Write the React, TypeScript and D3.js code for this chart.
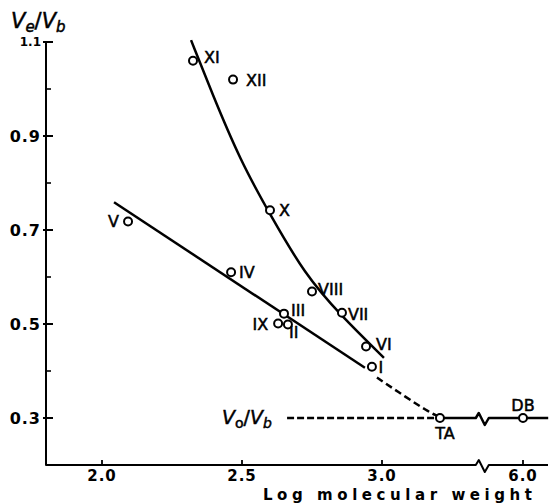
import React from "react";
import * as d3 from "d3";

// ---- data ----
const pointNames = ["XI", "XII", "X", "IV", "VIII", "III", "IX", "II", "VII", "VI", "I", "V", "TA", "DB"];
const pointLogMW = [2.325, 2.468, 2.6, 2.461, 2.75, 2.65, 2.629, 2.664, 2.857, 2.943, 2.964, 2.093, 3.207, 6.0];
const pointRatio = [1.06, 1.02, 0.742, 0.61, 0.569, 0.522, 0.501, 0.499, 0.524, 0.452, 0.409, 0.718, 0.3, 0.3];

const upperCurveX = [2.318, 2.393, 2.493, 2.6, 2.725, 2.85, 3.007];
const upperCurveY = [1.104, 0.991, 0.849, 0.733, 0.605, 0.52, 0.428];
const lowerLineX = [2.043, 2.939];
const lowerLineY = [0.759, 0.407];
const tailX = [2.982, 3.089, 3.161, 3.196];
const tailY = [0.386, 0.343, 0.315, 0.305];
const voidRatio = 0.3;
const voidLineX = [2.661, 3.193];
const baseLeftX = [3.207, 3.335];
const baseRightX = [5.88, 6.09];
const axisBreakLeft = 3.36;

const yMajorTicks = [0.3, 0.5, 0.7, 0.9, 1.1];
const yMajorLabels = ["0.3", "0.5", "0.7", "0.9", "1.1"];
const yMinorTicks = [0.4, 0.6, 0.8, 1.0];
const xTicks = [2.0, 2.5, 3.0, 6.0];
const xTickLabels = ["2.0", "2.5", "3.0", "6.0"];
const yDomain = [0.2, 1.1];

// ---- layout (label offsets: dx, dy baseline, anchor) ----
const labelOffsets: Record<string, [number, number, string]> = {
  XI: [11, 2, "start"],
  XII: [13, 6, "start"],
  X: [9, 6, "start"],
  IV: [8, 6, "start"],
  VIII: [6, 3, "start"],
  III: [7, 2, "start"],
  IX: [-10, 6, "end"],
  II: [1, 14, "start"],
  VII: [6, 7, "start"],
  VI: [10, 3, "start"],
  I: [9, 6, "middle"],
  V: [-9, 5, "end"],
  TA: [5, 21, "middle"],
  DB: [0, -7, "middle"],
};

const FONT = "'DejaVu Sans', Verdana, sans-serif";

export default function App() {
  const sL = d3.scaleLinear().domain([1.8, 3.0]).range([46, 382]);
  const sR = d3.scaleLinear().domain([6.0, 6.1]).range([523, 551]);
  const x = (v: number) => (v < 4.5 ? sL(v) : sR(v));
  const y = d3.scaleLinear().domain(yDomain).range([465, 42]);

  const line = d3
    .line<[number, number]>()
    .x((d) => x(d[0]))
    .y((d) => y(d[1]));
  const smooth = d3
    .line<[number, number]>()
    .x((d) => x(d[0]))
    .y((d) => y(d[1]))
    .curve(d3.curveBasis);

  const upper = smooth(upperCurveX.map((v, i) => [v, upperCurveY[i]]));
  const lower = line(lowerLineX.map((v, i) => [v, lowerLineY[i]]));
  const tail = smooth(tailX.map((v, i) => [v, tailY[i]]));
  const voidPath = line(voidLineX.map((v) => [v, voidRatio]));

  const zig = (bx: number, by: number) =>
    `L${bx - 6},${by} L${bx - 3},${by - 5} L${bx + 3},${by + 7} L${bx + 7},${by}`;

  const yv = y(voidRatio);
  const bxData = x(axisBreakLeft) - 1;
  const basePath =
    `M${x(baseLeftX[0])},${yv} L${x(baseLeftX[1])},${yv} ` +
    zig(bxData, yv) +
    ` L${x(baseRightX[0])},${yv} L${x(baseRightX[1])},${yv}`;

  const axY = y(yDomain[0]);
  const axX = x(1.8);
  const bxAxis = x(axisBreakLeft) - 1;
  const axisPath =
    `M${axX},${y(yDomain[1])} L${axX},${axY} ` + zig(bxAxis, axY) + ` L548,${axY}`;

  const heavy = { stroke: "#000", strokeWidth: 0.5 };

  return (
    <svg width={550} height={504} style={{ display: "block", position: "absolute", left: 0, top: 0, background: "#fff" }}>
      <rect width={550} height={504} fill="#fff" />
      {/* axes */}
      <path d={axisPath} fill="none" stroke="#000" strokeWidth={2} strokeLinejoin="round" />
      {yMajorTicks.map((t) => (
        <line key={"ym" + t} x1={axX - 3} x2={axX + 7} y1={y(t)} y2={y(t)} stroke="#000" strokeWidth={2} />
      ))}
      {yMinorTicks.map((t) => (
        <line key={"yn" + t} x1={axX} x2={axX + 5} y1={y(t)} y2={y(t)} stroke="#000" strokeWidth={1.6} />
      ))}
      {yMajorTicks.map((t, i) => (
        <text
          key={"yl" + t}
          x={axX - 5}
          y={y(t) + (i === 4 ? 4 : 6)}
          textAnchor="end"
          fontFamily={FONT}
          fontWeight="bold"
          fontSize={i === 4 ? 12 : 16}
          letterSpacing={i === 4 ? 0 : 1}
        >
          {yMajorLabels[i]}
        </text>
      ))}
      {xTicks.map((t, i) => (
        <g key={"xt" + t}>
          <line x1={x(t)} x2={x(t)} y1={axY} y2={axY - 5} stroke="#000" strokeWidth={1.8} />
          <text x={x(t)} y={axY + 16} textAnchor="middle" fontFamily={FONT} fontWeight="bold" fontSize={15} letterSpacing={1}>
            {xTickLabels[i]}
          </text>
        </g>
      ))}
      <text x={263} y={500} fontFamily={FONT} fontWeight="bold" fontSize={15} textLength={269} lengthAdjust="spacing">
        Log molecular weight
      </text>
      {/* y title */}
      <text x={11} y={28} fontFamily={FONT} fontSize={21} {...heavy}>
        <tspan fontStyle="italic">V</tspan>
        <tspan fontSize={15} dy={4} fontStyle="italic">e</tspan>
        <tspan dy={-4}>/</tspan>
        <tspan fontStyle="italic">V</tspan>
        <tspan fontSize={15} dy={4} fontStyle="italic">b</tspan>
      </text>
      {/* V0/Vb label */}
      <text x={222} y={yv + 6} fontFamily={FONT} fontSize={19} {...heavy}>
        <tspan fontStyle="italic">V</tspan>
        <tspan fontSize={14} dy={4}>o</tspan>
        <tspan dy={-4}>/</tspan>
        <tspan fontStyle="italic">V</tspan>
        <tspan fontSize={14} dy={4} fontStyle="italic">b</tspan>
      </text>
      {/* lines */}
      <path d={upper || ""} fill="none" stroke="#000" strokeWidth={2.5} />
      <path d={lower || ""} fill="none" stroke="#000" strokeWidth={2.5} />
      <path d={tail || ""} fill="none" stroke="#000" strokeWidth={2.5} strokeDasharray="7,4" />
      <path d={voidPath || ""} fill="none" stroke="#000" strokeWidth={2.5} strokeDasharray="7,3" />
      <path d={basePath} fill="none" stroke="#000" strokeWidth={2.5} strokeLinejoin="round" />
      {/* points */}
      {pointNames.map((n, i) => (
        <circle key={"c" + n} cx={x(pointLogMW[i])} cy={y(pointRatio[i])} r={4} fill="#fff" stroke="#000" strokeWidth={2} />
      ))}
      {pointNames.map((n, i) => {
        const [dx, dy, anchor] = labelOffsets[n];
        return (
          <text
            key={"t" + n}
            x={x(pointLogMW[i]) + dx}
            y={y(pointRatio[i]) + dy}
            textAnchor={anchor as any}
            fontFamily={FONT}
            fontSize={16}
            {...heavy}
          >
            {n}
          </text>
        );
      })}
    </svg>
  );
}
